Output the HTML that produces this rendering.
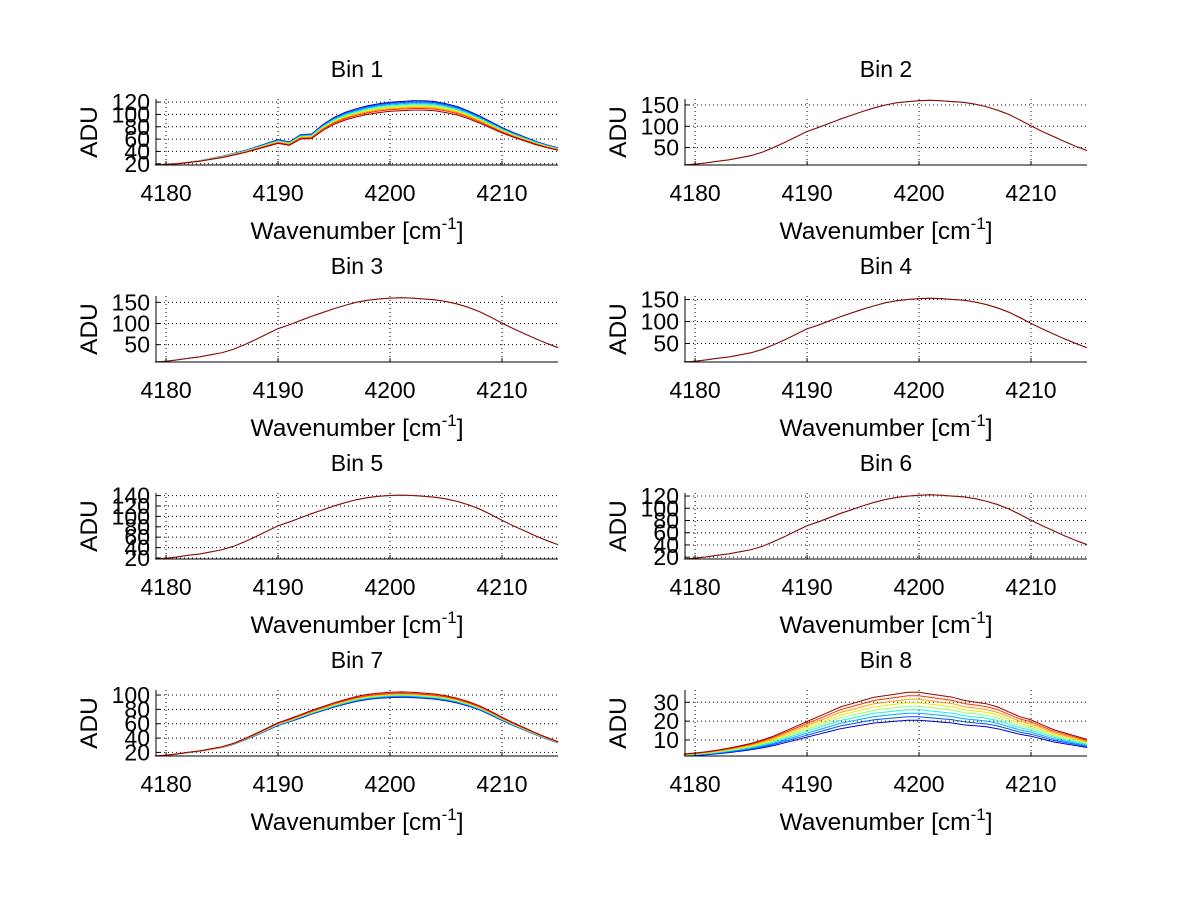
<!DOCTYPE html>
<html><head><meta charset="utf-8"><style>
html,body{margin:0;padding:0;background:#fff;}
svg{display:block;font-family:"Liberation Sans",Arial,sans-serif;}
</style></head><body>
<svg id="fig" width="1200" height="901" viewBox="0 0 1200 901" xmlns="http://www.w3.org/2000/svg">
<rect width="1200" height="901" fill="#fff"/>
</svg>
<script>
const wavenumbers=[4179,4180,4181,4182,4183,4184,4185,4186,4187,4188,4189,4190,4191,4192,4193,4194,4195,4196,4197,4198,4199,4200,4201,4202,4203,4204,4205,4206,4207,4208,4209,4210,4211,4212,4213,4214,4215];
// Bin 1 base (lowest, red) series
const bin1Base=[18,19,20,22,24,27,30,34,38,43,48,53,50,60,61,74,84,91,96,100,103,105,106,107,107,106,103,99,93,86,78,70,63,57,51,46,42];
// Generic profile (Bin 2 ADU)
const profile=[9,11,14,18,21,26,31,39,50,62,75,88,97,107,117,126,135,143,150,155,158,160,161,160,158,156,152,146,138,128,115,101,88,76,64,53,43];
const bin8Base=[1.5,1.8,2.2,2.7,3.3,4,4.8,5.8,7,8.5,10,11.5,13,14.5,16,17,18,19,19.5,20,20.5,20.5,20,19.5,19,18,17.5,17,16,14.5,13,12,10.5,9,8,7,6];
const binTitles=["Bin 1","Bin 2","Bin 3","Bin 4","Bin 5","Bin 6","Bin 7","Bin 8"];
const binLow=[18,9,9,8,18,17,15,1.5];
const binPeak=[107,161,161,153,141,122,97,20.5];
const yMin=[18,9,9,8,18,17,15,1.5];
const yMax=[125,164,165,158,145,125,107,36.5];
const yTicks=[[20,40,60,80,100,120],[50,100,150],[50,100,150],[50,100,150],[20,40,60,80,100,120,140],[20,40,60,80,100,120],[20,40,60,80,100],[10,20,30]];
const xTicks=[4180,4190,4200,4210];
const spreadBin1=[1.17,1.15,1.13,1.11,1.09,1.07,1.05,1.03,1.0];
const spreadBin7=[1.0,1.01,1.02,1.03,1.04,1.05,1.06,1.07,1.09];
const spreadBin8=[1.0,1.09,1.18,1.27,1.36,1.45,1.54,1.63,1.72];
const spreadFlat=[1.0,1.0,1.0,1.0,1.0,1.0,1.0,1.0,1.0];
const colors=['#0000c8','#0050ff','#00a8ff','#20f0e0','#90ff70','#f0e800','#ffa000','#ff3000','#9a0000'];

const NS="http://www.w3.org/2000/svg";
const svg=document.getElementById('fig');
function mk(tag,attrs,parent){const e=document.createElementNS(NS,tag);for(const k in attrs)e.setAttribute(k,attrs[k]);(parent||svg).appendChild(e);return e;}
const XMIN=4179.1,XMAX=4215;
for(let b=0;b<8;b++){
  const col=b%2,row=Math.floor(b/2);
  const x0=col?685:156,x1=col?1087:558;
  const yt=99+197*row,yb=165+197*row;
  const g=mk('g',{});
  
  
  const sx=v=>x0+(v-XMIN)/(XMAX-XMIN)*(x1-x0);
  const sy=v=>yb-(v-yMin[b])/(yMax[b]-yMin[b])*(yb-yt);
  xTicks.forEach(t=>{const l=mk('line',{x1:sx(t),x2:sx(t),y1:yt,y2:yb,stroke:'#000','stroke-width':1,'stroke-dasharray':'1,3'},g);
    
    const tk=mk('text',{x:sx(t),y:yb+36,'font-size':23,'text-anchor':'middle'},g);tk.textContent=t;
    });
  yTicks[b].forEach(t=>{const l=mk('line',{x1:x0,x2:x1,y1:sy(t),y2:sy(t),stroke:'#000','stroke-width':1,'stroke-dasharray':'1,3'},g);
    
    const tk=mk('text',{x:x0-6,y:sy(t)+8,'font-size':23,'text-anchor':'end'},g);tk.textContent=t;
    });
  const spread=b===0?spreadBin1:b===6?spreadBin7:b===7?spreadBin8:spreadFlat;
  const nS=(b>=1&&b<=5)?[0,4,8]:[0,1,2,3,4,5,6,7,8];
  nS.forEach(s=>{
    const pts=wavenumbers.map((w,i)=>{
      let base;
      if(b===0) base=bin1Base[i];
      else if(b===7) base=bin8Base[i];
      else base=binLow[b]+(profile[i]-9)/152*(binPeak[b]-binLow[b]);
      const lo=b===7?0:binLow[b];
      const v=lo+(base-lo)*spread[s];
      return sx(w).toFixed(1)+','+sy(v).toFixed(1);
    }).join(' ');
    const p=mk('polyline',{points:pts,fill:'none',stroke:colors[s],'stroke-width':1},g);
    
    
  });
  const ax=mk('path',{d:`M${x0},${yt}V${yb}H${x1}`,fill:'none',stroke:'#000','stroke-width':1},g);
  
  xTicks.forEach(t=>{mk('line',{x1:sx(t),x2:sx(t),y1:yb,y2:yb-4,stroke:'#000'},g);});
  yTicks[b].forEach(t=>{mk('line',{x1:x0,x2:x0+4,y1:sy(t),y2:sy(t),stroke:'#000'},g);});
  const cx=(x0+x1)/2;
  const ti=mk('text',{x:cx,y:yt-22,'font-size':23,'text-anchor':'middle'},g);ti.textContent=binTitles[b];
  
  const xl=mk('text',{x:cx,y:yb+74,'font-size':24.5,'text-anchor':'middle'},g);
  
  xl.innerHTML='Wavenumber [cm<tspan dy="-10" font-size="17">-1</tspan><tspan dy="10">]</tspan>';
  const yl=mk('text',{x:0,y:0,'font-size':24.5,'text-anchor':'middle',transform:`translate(${col?626:97},${(yt+yb)/2}) rotate(-90)`},g);
  yl.textContent='ADU';
  
}
</script>
</body></html>
